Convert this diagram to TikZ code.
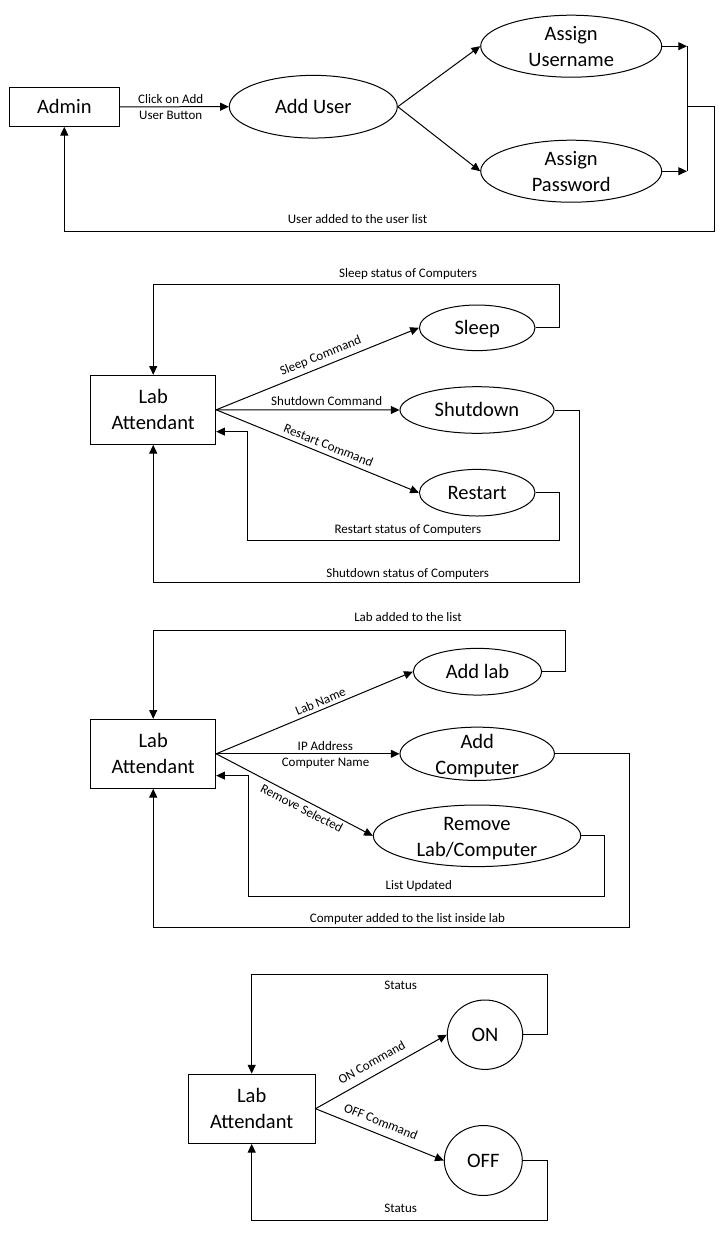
\documentclass[tikz,border=0pt]{standalone}
\usepackage{fontspec}
\setmainfont{Carlito}
\usetikzlibrary{shapes.geometric,arrows.meta,calc}

\tikzset{
  wire/.style={line width=1pt, draw=black},
  arr/.style={wire, -{Triangle[length=8.7pt,width=8pt]}},
  entity/.style={draw=black, line width=1pt, rectangle, inner sep=0pt,
    font=\fontsize{20.5}{26}\selectfont, align=center},
  proc/.style={draw=black, line width=1pt, ellipse, inner sep=0pt},
  ptext/.style={font=\fontsize{20.5}{26}\selectfont, align=center, inner sep=0pt},
  pone/.style={font=\fontsize{20.5}{26}\selectfont, inner sep=0pt, text height=13.2pt, text depth=0pt},
  flow/.style={font=\fontsize{13}{16}\selectfont, inner sep=0pt, text height=8.6pt, text depth=0pt}
}

\begin{document}
\begin{tikzpicture}[x=1pt,y=-1pt]
\path[fill=white] (0,0) rectangle (720,1243);
\useasboundingbox (0,0) rectangle (720,1243);

% ---------------- Admin: adding a user ----------------
\node[entity, minimum width=110pt, minimum height=39pt] (admin) at (64.3,106.8) {};
\node[pone] (admin-t) at (admin) {Admin};
\node[proc, minimum width=168pt, minimum height=62.7pt] (adduser) at (313.3,106.7) {};
\node[pone] (adduser-t) at (adduser) {Add User};
\node[proc, minimum width=181pt, minimum height=62pt] (uname) at (571.2,46.2) {};
\node[ptext] (uname-t) at (uname) {Assign\\Username};
\node[proc, minimum width=181pt, minimum height=62pt] (pwd) at (571.2,171.2) {};
\node[ptext] (pwd-t) at (pwd) {Assign\\Password};

\draw[arr] (admin.east) -- (adduser.west);
\node[flow] (l-click) at (170.7,99) {Click on Add};
\node[flow] (l-btn) at (170.7,115) {User Button};
\draw[arr] (adduser.east) -- (uname.west);
\draw[arr] (adduser.east) -- (pwd.west);

\coordinate (j1) at (687,46.2);
\coordinate (j2) at (687,171.2);
\coordinate (j3) at (687,106.7);
\draw[arr] (uname.east) -- (j1);
\draw[arr] (pwd.east) -- (j2);
\draw[wire] (j1) -- (j2);
\draw[arr] (j3) -| (714,231) -| (admin.south);
\node[flow] (l-added) at (357.5,219) {User added to the user list};

% ---------------- Lab attendant: power commands ----------------
\node[entity, minimum width=125pt, minimum height=69pt] (la2) at (153.2,409.8) {};
\node[ptext] (la2-t) at (la2) {Lab\\Attendant};
\node[proc, minimum width=115.6pt, minimum height=45.6pt] (sleep) at (477.2,327.8) {};
\node[pone] (sleep-t) at (sleep) {Sleep};
\node[proc, minimum width=154pt, minimum height=46.6pt] (shut) at (477,410) {};
\node[pone] (shut-t) at (shut) {Shutdown};
\node[proc, minimum width=115.6pt, minimum height=46.6pt] (restart) at (477.2,492.7) {};
\node[pone] (restart-t) at (restart) {Restart};

\draw[arr] (la2.east) -- (sleep.west);
\draw[arr] (la2.east) -- (shut.west);
\draw[arr] (la2.east) -- (restart.west);
\node[flow, rotate=22] (l-sleepc) at (320.5,355.5) {Sleep Command};
\node[flow] (l-shutc) at (326.7,400.7) {Shutdown Command};
\node[flow, rotate=-22] (l-restc) at (328.5,445.5) {Restart Command};

\draw[arr] (sleep.east) -| (559,284) -| (la2.north);
\node[flow] (l-sleeps) at (408,273.5) {Sleep status of Computers};
\draw[arr] (restart.east) -| (559,540) -| (247,431.6) -- ($(la2.east)+(0,21.8)$);
\node[flow] (l-rests) at (407.8,529.3) {Restart status of Computers};
\draw[arr] (shut.east) -| (579,582.7) -| (la2.south);
\node[flow] (l-shuts) at (407.7,572.7) {Shutdown status of Computers};

% ---------------- Lab attendant: labs and computers ----------------
\node[entity, minimum width=125pt, minimum height=69pt] (la3) at (153.2,753.8) {};
\node[ptext] (la3-t) at (la3) {Lab\\Attendant};
\node[proc, minimum width=128.4pt, minimum height=46.7pt] (addlab) at (477.5,671.7) {};
\node[pone] (addlab-t) at (addlab) {Add lab};
\node[proc, minimum width=154.4pt, minimum height=53.3pt] (addpc) at (477.2,753.8) {};
\node[ptext] (addpc-t) at ([yshift=-2.5pt]addpc) {Add\\Computer};
\node[proc, minimum width=207.4pt, minimum height=61.6pt] (remove) at (477,835.8) {};
\node[ptext] (remove-t) at ([yshift=-2.5pt]remove) {Remove\\Lab/Computer};

\draw[arr] (la3.east) -- (addlab.west);
\draw[arr] (la3.east) -- (addpc.west);
\draw[arr] (la3.east) -- (remove.west);
\node[flow, rotate=22.6] (l-labname) at (320.5,701.5) {Lab Name};
\node[flow] (l-ip) at (325.3,746) {IP Address};
\node[flow] (l-pcname) at (325.5,762.3) {Computer Name};
\node[flow, rotate=-27.5] (l-remsel) at (301.7,808.3) {Remove Selected};

\draw[arr] (addlab.east) -| (565,630) -| (la3.north);
\node[flow] (l-labadd) at (408,617.5) {Lab added to the list};
\draw[arr] (remove.east) -| (604.3,896) -| (248,775.6) -- ($(la3.east)+(0,21.8)$);
\node[flow] (l-listup) at (418.8,885) {List Updated};
\draw[arr] (addpc.east) -| (629.5,927.7) -| (la3.south);
\node[flow] (l-pcadd) at (407.5,917.7) {Computer added to the list inside lab};

% ---------------- Lab attendant: ON / OFF ----------------
\node[entity, minimum width=126.7pt, minimum height=69.3pt] (la4) at (251.7,1108.7) {};
\node[ptext] (la4-t) at (la4) {Lab\\Attendant};
\node[proc, minimum width=75.4pt, minimum height=69.4pt] (on) at (485,1034.7) {};
\node[pone] (on-t) at (on) {ON};
\node[proc, minimum width=78pt, minimum height=70pt] (off) at (483.3,1160.5) {};
\node[pone] (off-t) at (off) {OFF};

\draw[arr] (la4.east) -- (on.west);
\draw[arr] (la4.east) -- (off.west);
\node[flow, rotate=29.2] (l-onc) at (371.7,1062.5) {ON Command};
\node[flow, rotate=-21.7] (l-offc) at (380.8,1121.7) {OFF Command};

\draw[arr] (on.east) -| (547,974.3) -| (la4.north);
\node[flow] (l-st1) at (400.7,985) {Status};
\draw[arr] (off.east) -| (547,1220.5) -| (la4.south);
\node[flow] (l-st2) at (400.7,1208.5) {Status};
\end{tikzpicture}
\end{document}
